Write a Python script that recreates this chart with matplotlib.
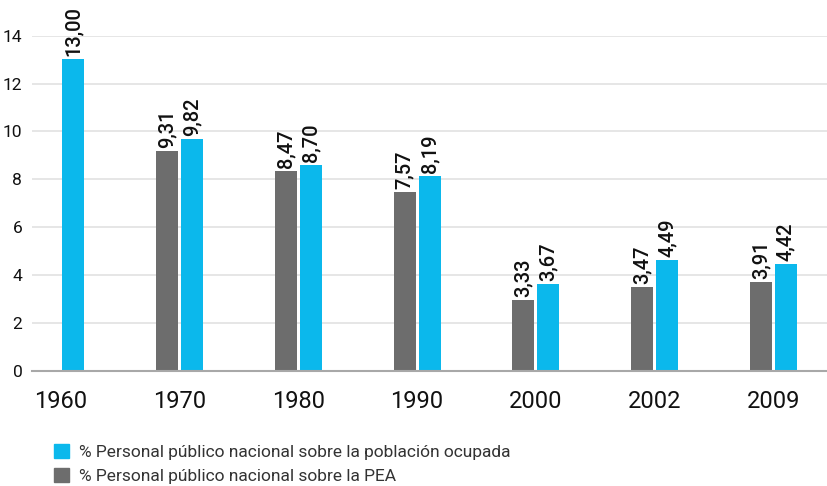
import matplotlib
matplotlib.use('Agg')
import matplotlib.pyplot as plt
from matplotlib.patches import Patch
import numpy as np

plt.rcParams['font.family'] = ['Roboto', 'DejaVu Sans']

# data
years = ['1960', '1970', '1980', '1990', '2000', '2002', '2009']
pea = [np.nan, 9.18, 8.35, 7.48, 2.95, 3.50, 3.71]          # bar heights as drawn
ocupada = [13.03, 9.68, 8.60, 8.14, 3.62, 4.63, 4.46]
pea_labels = ['', '9,31', '8,47', '7,57', '3,33', '3,47', '3,91']
ocupada_labels = ['13,00', '9,82', '8,70', '8,19', '3,67', '4,49', '4,42']

blue = '#0bb8ec'
gray = '#6d6d6d'

fig = plt.figure(figsize=(8.27, 4.86), dpi=100)
ax = fig.add_axes([0.0387, 0.2373, 0.9613, 0.6892])

x = np.arange(len(years))
w = 0.185
off = 0.105

ax.bar(x - off, pea, width=w, color=gray, zorder=3)
ax.bar(x + off, ocupada, width=w, color=blue, zorder=3)

for i in range(len(years)):
    if pea_labels[i]:
        ax.text(x[i] - off, pea[i] + 0.12, pea_labels[i], rotation=90,
                ha='center', va='bottom', fontsize=14.5, color='#111111',
                fontweight='medium', clip_on=False)
    ax.text(x[i] + off, ocupada[i] + 0.12, ocupada_labels[i], rotation=90,
            ha='center', va='bottom', fontsize=14.5, color='#111111',
            fontweight='medium', clip_on=False)

ax.set_xlim(-0.244, 6.453)
ax.set_ylim(0, 14)
ax.set_yticks(range(0, 15, 2))
ax.set_xticks(x)
ax.set_xticklabels(years)
ax.tick_params(axis='x', length=0, pad=14, labelsize=17, labelcolor='#111111')
ax.tick_params(axis='y', length=0, pad=7, labelsize=12.5, labelcolor='#111111')

ax.grid(axis='y', color='#e4e4e4', linewidth=1.3, zorder=0)
for s in ['top', 'right', 'left']:
    ax.spines[s].set_visible(False)
ax.spines['bottom'].set_color('#a8a8a8')
ax.spines['bottom'].set_linewidth(1.5)
ax.spines['bottom'].set_zorder(4)

handles = [Patch(color=blue, label='% Personal público nacional sobre la población ocupada'),
           Patch(color=gray, label='% Personal público nacional sobre la PEA')]
fig.legend(handles=handles, loc='upper left', bbox_to_anchor=(0.065, 0.087),
           frameon=False, fontsize=12.5, handlelength=0.85, handleheight=0.85,
           handletextpad=0.6, labelspacing=0.5, borderpad=0, borderaxespad=0,
           labelcolor='#333333')

fig.savefig('out.png', dpi=100)
